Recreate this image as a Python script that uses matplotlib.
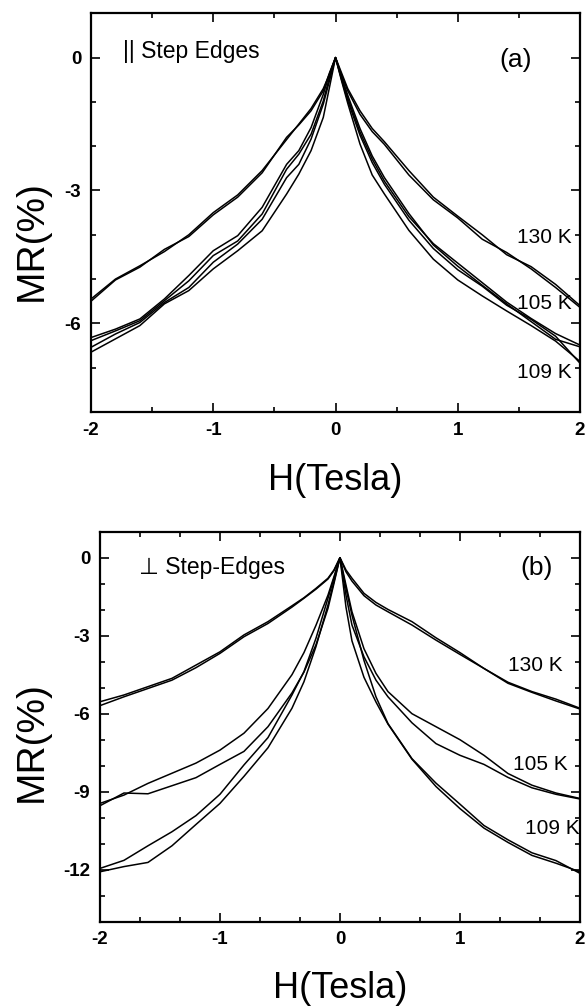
import matplotlib
matplotlib.use('Agg')
import matplotlib.pyplot as plt
from matplotlib.ticker import MultipleLocator

plt.rcParams['font.family'] = ['Liberation Sans', 'DejaVu Sans']
plt.rcParams['axes.unicode_minus'] = False

# field grid (Tesla)
H = [-2.0, -1.8, -1.6, -1.4, -1.2, -1.0, -0.8, -0.6, -0.4, -0.3, -0.2, -0.1, -0.05,
     0.0, 0.05, 0.1, 0.2, 0.3, 0.4, 0.6, 0.8, 1.0, 1.2, 1.4, 1.6, 1.8, 2.0]

# (a) || step edges, two sweeps per temperature
a130_up = [-5.50, -5.02, -4.73, -4.33, -4.04, -3.55, -3.15, -2.60, -1.80, -1.52, -1.20, -0.75, -0.35,
           0.0, -0.40, -0.75, -1.28, -1.67, -1.96, -2.65, -3.21, -3.62, -4.10, -4.40, -4.77, -5.19, -5.64]
a130_dn = [-5.45, -5.00, -4.70, -4.38, -4.00, -3.50, -3.10, -2.55, -1.85, -1.50, -1.15, -0.70, -0.38,
           0.0, -0.35, -0.70, -1.20, -1.60, -1.90, -2.55, -3.15, -3.58, -4.00, -4.45, -4.72, -5.12, -5.60]
a105_up = [-6.32, -6.13, -5.90, -5.45, -4.92, -4.36, -4.02, -3.38, -2.41, -2.10, -1.58, -0.83, -0.38,
           0.0, -0.47, -0.91, -1.68, -2.29, -2.79, -3.59, -4.20, -4.64, -5.08, -5.52, -5.89, -6.23, -6.49]
a105_dn = [-6.39, -6.17, -5.94, -5.49, -5.04, -4.47, -4.14, -3.53, -2.52, -2.18, -1.73, -0.98, -0.45,
           0.0, -0.44, -0.85, -1.60, -2.22, -2.71, -3.52, -4.23, -4.71, -5.14, -5.56, -5.96, -6.36, -6.53]
a109_up = [-6.54, -6.24, -5.98, -5.53, -5.19, -4.62, -4.21, -3.65, -2.71, -2.41, -1.84, -1.05, -0.53,
           0.0, -0.50, -0.97, -1.75, -2.37, -2.86, -3.67, -4.31, -4.79, -5.16, -5.59, -5.91, -6.29, -6.90]
a109_dn = [-6.65, -6.35, -6.05, -5.56, -5.26, -4.77, -4.36, -3.91, -3.08, -2.63, -2.10, -1.35, -0.68,
           0.0, -0.53, -1.03, -1.95, -2.65, -3.08, -3.90, -4.55, -5.02, -5.38, -5.72, -6.05, -6.40, -6.86]

# (b) perpendicular to step edges
b130_up = [-5.54, -5.28, -4.96, -4.64, -4.13, -3.62, -2.97, -2.46, -1.85, -1.54, -1.18, -0.79, -0.47,
           0.0, -0.47, -0.79, -1.37, -1.72, -1.99, -2.46, -3.08, -3.65, -4.26, -4.79, -5.15, -5.44, -5.79]
b130_dn = [-5.69, -5.35, -5.03, -4.71, -4.23, -3.68, -3.04, -2.53, -1.90, -1.56, -1.21, -0.82, -0.50,
           0.0, -0.54, -0.90, -1.46, -1.82, -2.08, -2.59, -3.17, -3.72, -4.26, -4.83, -5.18, -5.51, -5.82]
b105_up = [-9.45, -9.13, -8.68, -8.29, -7.90, -7.40, -6.75, -5.80, -4.50, -3.65, -2.60, -1.44, -0.73,
           0.0, -1.05, -2.08, -3.50, -4.45, -5.15, -6.00, -6.50, -7.00, -7.60, -8.30, -8.75, -9.05, -9.26]
b105_dn = [-9.54, -9.05, -9.08, -8.77, -8.46, -7.95, -7.45, -6.50, -5.20, -4.40, -3.35, -1.95, -0.99,
           0.0, -1.44, -2.59, -3.81, -4.71, -5.35, -6.35, -7.15, -7.60, -7.95, -8.45, -8.85, -9.10, -9.28]
b109_up = [-11.95, -11.64, -11.08, -10.54, -9.92, -9.10, -7.97, -6.92, -5.28, -4.38, -3.10, -1.56, -0.79,
           0.0, -1.90, -3.20, -4.60, -5.55, -6.40, -7.75, -8.80, -9.65, -10.40, -10.95, -11.45, -11.75, -12.08]
b109_dn = [-12.08, -11.88, -11.72, -11.08, -10.26, -9.45, -8.41, -7.31, -5.79, -4.77, -3.42, -1.82, -0.92,
           0.0, -1.18, -2.21, -3.95, -5.35, -6.38, -7.73, -8.67, -9.48, -10.30, -10.85, -11.35, -11.65, -12.14]

temps = ['130 K', '105 K', '109 K']


def style(ax, ymin, xminor):
    ax.set_xlim(-2, 2)
    ax.set_ylim(ymin, 1)
    ax.xaxis.set_major_locator(MultipleLocator(1))
    ax.xaxis.set_minor_locator(MultipleLocator(xminor))
    ax.yaxis.set_major_locator(MultipleLocator(3))
    ax.yaxis.set_minor_locator(MultipleLocator(1))
    ax.tick_params(which='both', direction='in', top=True, right=True, width=1.2)
    ax.tick_params(which='major', length=6.5, labelsize=13.5, pad=7)
    ax.tick_params(which='minor', length=3.5)
    for lab in ax.get_xticklabels() + ax.get_yticklabels():
        lab.set_fontweight('bold')
    for sp in ax.spines.values():
        sp.set_linewidth(1.6)
    ax.set_xlabel('H(Tesla)', fontsize=26)
    ax.set_ylabel('MR(%)', fontsize=28)
    ax.xaxis.label.set_va('baseline')


fig = plt.figure(figsize=(5.86, 10.07), dpi=100)

ax1 = fig.add_axes([0.1553, 0.5909, 0.8345, 0.3959])
for y in [a130_up, a130_dn, a105_up, a105_dn, a109_up, a109_dn]:
    ax1.plot(H, y, color='black', lw=1.1)
style(ax1, -8, 0.5)
ax1.xaxis.set_label_coords(0.5, -0.196)
ax1.yaxis.set_label_coords(-0.084, 0.43)
ax1.text(-1.74, 0.14, '|| Step Edges', fontsize=16.5, va='center', ha='left')
ax1.text(1.47, -0.06, '(a)', fontsize=19, va='center', ha='center')
for lab, yy in zip(temps, [-4.06, -5.56, -7.11]):
    ax1.text(1.71, yy, lab, fontsize=15, va='center', ha='center')

ax2 = fig.add_axes([0.1706, 0.0847, 0.8191, 0.3873])
for y in [b130_up, b130_dn, b105_up, b105_dn, b109_up, b109_dn]:
    ax2.plot(H, y, color='black', lw=1.1)
style(ax2, -14, 1 / 3)
ax2.xaxis.set_label_coords(0.5, -0.196)
ax2.yaxis.set_label_coords(-0.104, 0.463)
ax2.text(-1.675, -0.36, '\u22a5 Step-Edges', fontsize=16.5, va='center', ha='left')
ax2.text(1.64, -0.40, '(b)', fontsize=19, va='center', ha='center')
for lab, xx, yy in zip(temps, [1.625, 1.67, 1.77], [-4.13, -7.97, -10.4]):
    ax2.text(xx, yy, lab, fontsize=15, va='center', ha='center')

fig.savefig('out.png', dpi=100)
